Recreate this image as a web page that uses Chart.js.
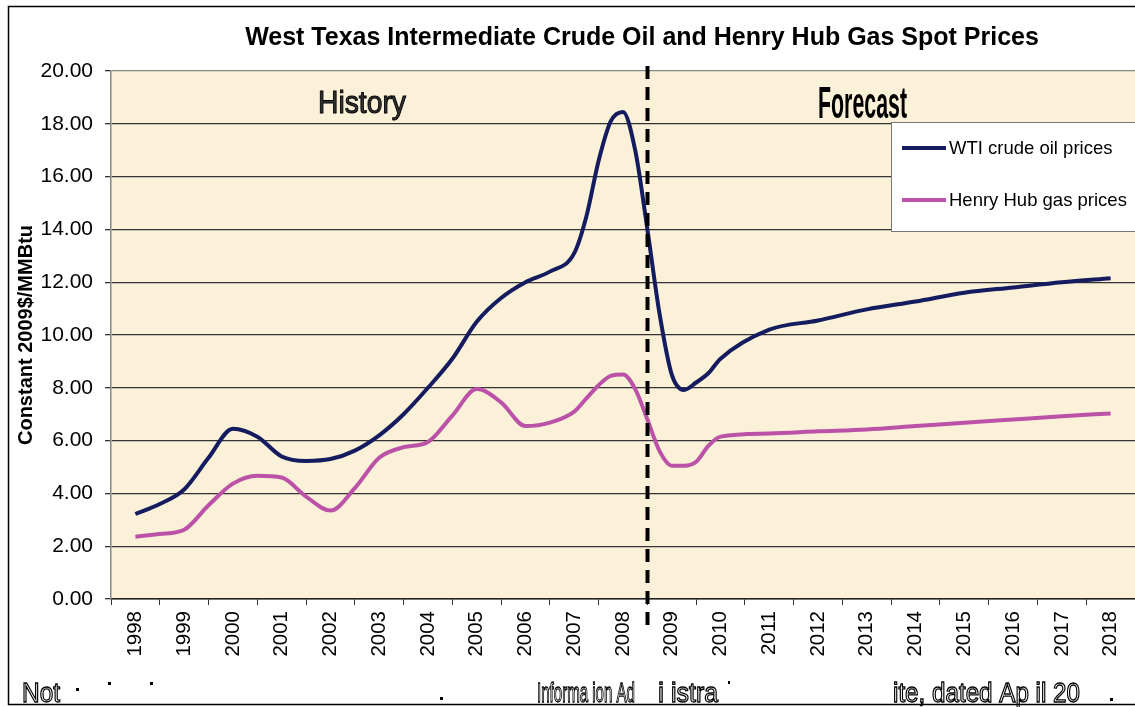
<!DOCTYPE html>
<html>
<head>
<meta charset="utf-8">
<script src="https://cdn.jsdelivr.net/npm/chart.js@4.4.1/dist/chart.umd.min.js"></script>
<style>
  html, body { margin: 0; padding: 0; background: #fff; }
  #wrap { width: 1135px; height: 707px; position: relative; }
</style>
</head>
<body>
<div id="wrap"><canvas id="chart"></canvas></div>
<script>
// --- data (constant 2009$/MMBtu) ---
const years = [
  1998, 1998.5, 1999, 1999.5, 2000, 2000.5, 2001, 2001.5, 2002, 2002.5,
  2003, 2003.5, 2004, 2004.5, 2005, 2005.5, 2006, 2006.5,
  2007, 2007.25, 2007.5, 2007.75, 2008, 2008.25, 2008.5, 2008.75,
  2009, 2009.25, 2009.5, 2009.75, 2010,
  2011, 2012, 2013, 2014, 2015, 2016, 2017, 2018
];
const wtiPrices = [
  3.22, 3.6, 4.15, 5.35, 6.45, 6.15, 5.4, 5.23, 5.3, 5.62,
  6.2, 7.0, 8.0, 9.1, 10.5, 11.4, 12.0, 12.4,
  13.1, 14.5, 16.6, 18.1, 18.45, 17.0, 14.0, 10.8,
  8.5, 7.92, 8.2, 8.55, 9.1,
  10.2, 10.55, 10.97, 11.27, 11.6, 11.8, 12.0, 12.15
];
const henryHubPrices = [
  2.36, 2.46, 2.62, 3.55, 4.37, 4.67, 4.6, 3.88, 3.35, 4.2,
  5.35, 5.75, 5.95, 6.95, 7.95, 7.45, 6.55, 6.68,
  7.1, 7.6, 8.1, 8.45, 8.5, 7.95, 6.8, 5.6,
  5.05, 5.05, 5.2, 5.8, 6.15,
  6.27, 6.35, 6.42, 6.55, 6.68, 6.8, 6.92, 7.03
];
const yearLabels = [1998, 1999, 2000, 2001, 2002, 2003, 2004, 2005, 2006, 2007, 2008,
  2009, 2010, 2011, 2012, 2013, 2014, 2015, 2016, 2017, 2018];
const seriesNames = ['WTI crude oil prices', 'Henry Hub gas prices'];
const splitYear = 2008.5;   // history / forecast divide

const FONT = "'Liberation Sans', Arial, sans-serif";

const wtiColor = '#141B5F';
const hhColor = '#BC52A8';

// tick positions: a boundary mark between years, a label at each year
const buildYearTicks = (scale) => {
  const t = [];
  yearLabels.forEach(y => { t.push({ value: y - 0.5 }); t.push({ value: y }); });
  t.push({ value: yearLabels[yearLabels.length - 1] + 0.5 });
  scale.ticks = t;
};

// draws text squeezed to a given width (narrow font look)
const narrowText = (ctx, text, x, y, width, opts) => {
  ctx.save();
  ctx.font = opts.font;
  const w = ctx.measureText(text).width;
  const sx = width / w;
  ctx.translate(x, y);
  ctx.scale(sx, 1);
  ctx.textBaseline = 'alphabetic';
  ctx.textAlign = 'left';
  if (opts.fill) { ctx.fillStyle = opts.fill; ctx.fillText(text, 0, 0); }
  if (opts.stroke) { ctx.lineWidth = opts.lineWidth || 1; ctx.strokeStyle = opts.stroke; ctx.strokeText(text, 0, 0); }
  ctx.restore();
};

const decorPlugin = {
  id: 'decor',
  beforeDraw(chart) {
    const { ctx, chartArea: a } = chart;
    ctx.save();
    ctx.fillStyle = '#fff';
    ctx.fillRect(0, 0, chart.width, chart.height);
    ctx.fillStyle = '#FAF1D8';
    ctx.fillRect(a.left, a.top, a.right - a.left, a.bottom - a.top);
    ctx.restore();
  },
  afterDatasetsDraw(chart) {
    const { ctx } = chart;
    const x = Math.round(chart.scales.x.getPixelForValue(splitYear)) + 0.5;
    ctx.save();
    ctx.strokeStyle = '#000';
    ctx.lineWidth = 4;
    ctx.setLineDash([13, 8]);
    ctx.beginPath();
    ctx.moveTo(x, 66);
    ctx.lineTo(x, 628);
    ctx.stroke();
    ctx.restore();
  },
  afterDraw(chart) {
    const { ctx } = chart;
    ctx.save();

    // title
    ctx.fillStyle = '#000';
    ctx.font = `bold 25px ${FONT}`;
    ctx.textAlign = 'center';
    ctx.textBaseline = 'middle';
    ctx.fillText('West Texas Intermediate Crude Oil and Henry Hub Gas Spot Prices', 642, 38);

    // period labels
    narrowText(ctx, 'History', 318, 113, 88, { font: `32px ${FONT}`, fill: '#333', stroke: '#000', lineWidth: 1 });
    narrowText(ctx, 'Forecast', 818, 118, 89, { font: `bold 44px ${FONT}`, fill: '#000' });

    // legend
    ctx.fillStyle = '#fff';
    ctx.fillRect(891.5, 122.5, 260, 109);
    ctx.strokeStyle = '#777';
    ctx.lineWidth = 1;
    ctx.strokeRect(891.5, 122.5, 260, 109);
    const rows = [[wtiColor, seriesNames[0], 148], [hhColor, seriesNames[1], 200]];
    rows.forEach(([c, label, y]) => {
      ctx.strokeStyle = c;
      ctx.lineWidth = 4;
      ctx.beginPath();
      ctx.moveTo(902, y);
      ctx.lineTo(946, y);
      ctx.stroke();
      ctx.fillStyle = '#000';
      ctx.font = `18.5px ${FONT}`;
      ctx.textAlign = 'left';
      ctx.textBaseline = 'middle';
      ctx.fillText(label, 949, y + 1);
    });

    // footnote (partly illegible in the source)
    const foot = { font: `27px ${FONT}`, fill: '#fff', stroke: '#000', lineWidth: 1.3 };
    narrowText(ctx, 'Not', 22, 702, 38, foot);
    narrowText(ctx, 'Informa ion Ad', 537, 702, 98, foot);
    narrowText(ctx, 'i', 658, 702, 6, foot);
    narrowText(ctx, 'istra', 671, 702, 47, foot);
    narrowText(ctx, 'ite, dated Ap il 20', 893, 702, 187, foot);
    ctx.fillStyle = '#000';
    [[76, 688], [108, 682], [150, 682], [440, 697], [1110, 698]].forEach(([x, y]) => {
      ctx.fillRect(x, y, 3, 3);
    });
    ctx.fillRect(728, 681, 2, 3);

    // outer frame
    ctx.strokeStyle = '#000';
    ctx.lineWidth = 1.5;
    ctx.strokeRect(8.5, 6.5, 1140, 698);
    ctx.restore();
  }
};

const ctx = document.getElementById('chart');

new Chart(ctx, {
  type: 'line',
  data: {
    datasets: [{
      label: seriesNames[0],
      data: years.map((y, i) => ({ x: y, y: wtiPrices[i] })),
      borderColor: wtiColor,
      borderWidth: 4,
      pointRadius: 0,
      cubicInterpolationMode: 'monotone'
    }, {
      label: seriesNames[1],
      data: years.map((y, i) => ({ x: y, y: henryHubPrices[i] })),
      borderColor: hhColor,
      borderWidth: 4,
      pointRadius: 0,
      cubicInterpolationMode: 'monotone'
    }]
  },
  options: {
    responsive: true,
    maintainAspectRatio: false,
    animation: false,
    layout: { padding: { left: 8, top: 71, right: 0, bottom: 0 } },
    plugins: {
      legend: { display: false },
      title: { display: false },
      tooltip: { enabled: false }
    },
    scales: {
      x: {
        type: 'linear',
        min: yearLabels[0] - 0.5,
        max: yearLabels[yearLabels.length - 1] + 0.5,
        afterBuildTicks: buildYearTicks,
        afterFit: (scale) => {
          scale.height = 108;
          scale.paddingLeft = 0;
          scale.paddingRight = 0;
        },
        border: { color: '#222', width: 1.5 },
        grid: {
          drawOnChartArea: false,
          drawTicks: true,
          tickLength: 6,
          tickColor: (c) => Number.isInteger(c.tick.value) ? 'rgba(0,0,0,0)' : '#333'
        },
        ticks: {
          autoSkip: false,
          minRotation: 90,
          maxRotation: 90,
          padding: 6,
          color: '#000',
          font: { size: 20.5, family: FONT },
          callback: (v) => Number.isInteger(v) ? String(v) : ''
        }
      },
      y: {
        min: 0,
        max: 20,
        afterFit: (scale) => { scale.width = 103; },
        border: { color: '#888', width: 1.5 },
        grid: {
          color: (c) => c.tick.value === 20 ? '#888' : '#333',
          lineWidth: 1.3,
          tickLength: 6,
          tickColor: '#333'
        },
        ticks: {
          stepSize: 2,
          padding: 12,
          color: '#000',
          font: { size: 21, family: FONT },
          callback: (v) => v.toFixed(2)
        },
        title: {
          display: true,
          text: 'Constant 2009$/MMBtu',
          color: '#000',
          font: { size: 20, weight: 'bold', family: FONT },
          padding: { top: 6, bottom: 0 }
        }
      }
    }
  },
  plugins: [decorPlugin]
});
</script>
</body>
</html>
